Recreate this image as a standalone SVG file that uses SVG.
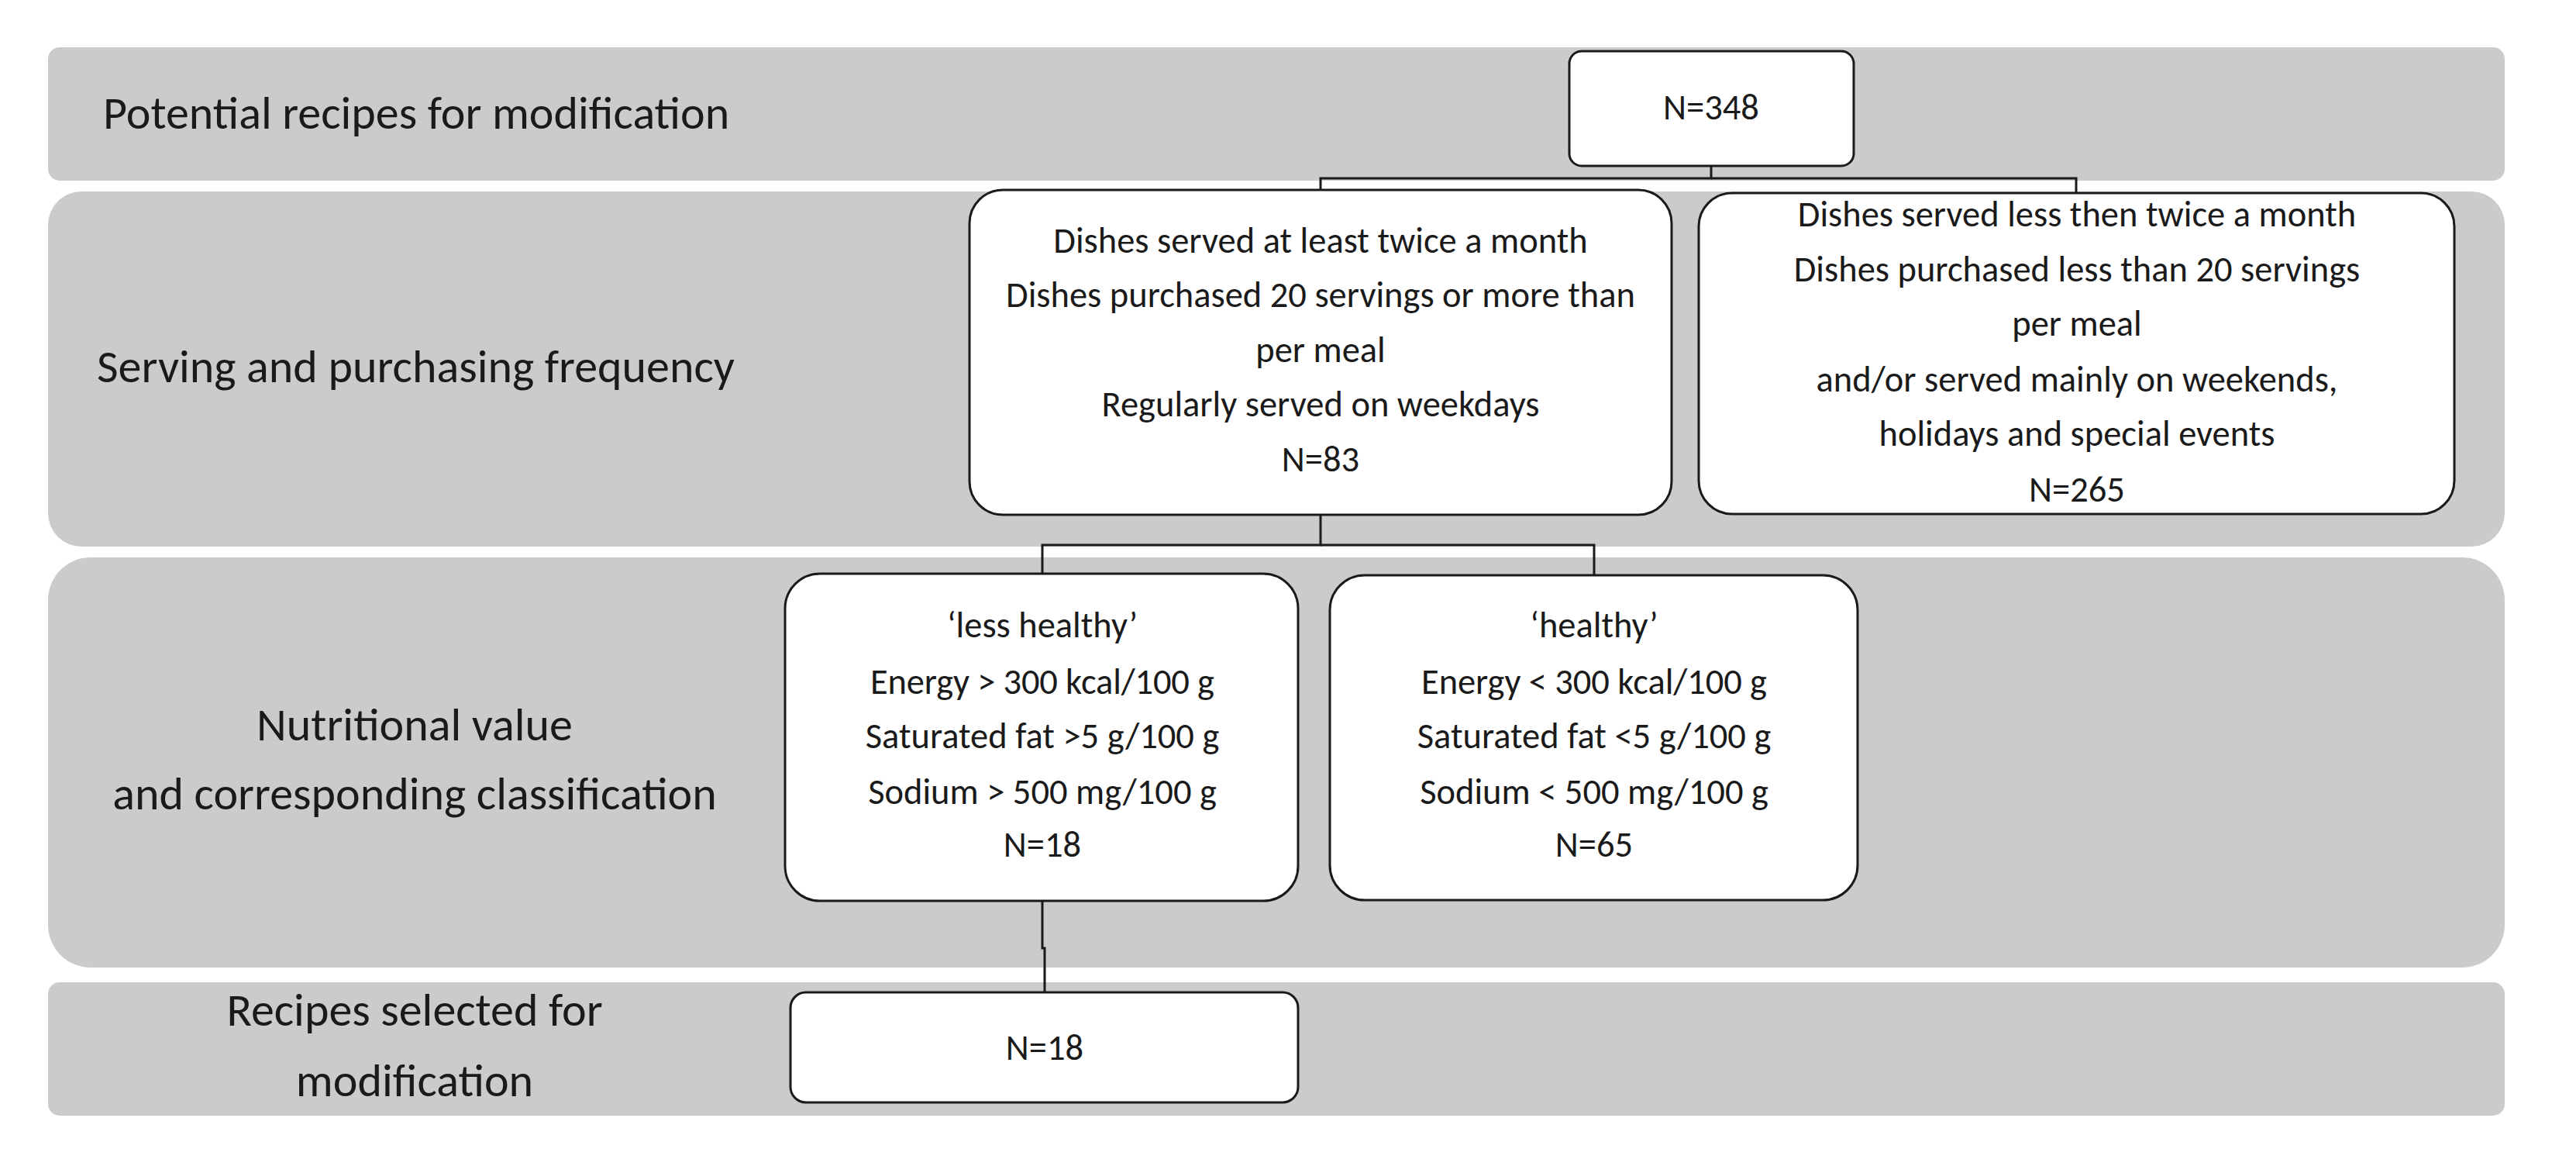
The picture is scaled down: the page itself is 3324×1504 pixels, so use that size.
<svg xmlns="http://www.w3.org/2000/svg" width="3324" height="1504" viewBox="0 0 3324 1504">
<style>
.band{fill:#cbcbcb;stroke:none}
.node{fill:#ffffff;stroke:#1a1a1a;stroke-width:3}
.conn{fill:none;stroke:#1a1a1a;stroke-width:3}
text{font-family:Carlito,Lato,"Open Sans",sans-serif;fill:#1a1a1a}
.lbl{font-size:60px}
.t{font-size:46.5px;text-anchor:middle}
.c{text-anchor:middle}
</style>
<rect width="3324" height="1504" fill="#ffffff"/>
<g id="bands">
<rect class="band" x="62" y="61" width="3170" height="172" rx="15"/>
<rect class="band" x="62" y="247" width="3170" height="458" rx="43"/>
<rect class="band" x="62" y="719" width="3170" height="529" rx="55"/>
<rect class="band" x="62" y="1267" width="3170" height="172" rx="15"/>
</g>
<g id="labels">
<text class="lbl" x="133" y="166">Potential recipes for modification</text>
<text class="lbl" x="125" y="493">Serving and purchasing frequency</text>
<text class="lbl c" x="535" y="955">Nutritional value</text>
<text class="lbl c" x="535" y="1044">and corresponding classification</text>
<text class="lbl c" x="535" y="1323">Recipes selected for</text>
<text class="lbl c" x="535" y="1414">modification</text>
</g>
<g id="connectors">
<path class="conn" d="M2208,214 V230 H1704 V246"/>
<path class="conn" d="M2208,230 H2679 V250"/>
<path class="conn" d="M1704,664 V703 H1345 V740"/>
<path class="conn" d="M1704,703 H2057 V742"/>
<path class="conn" d="M1345,1162 V1223 H1348 V1280"/>
</g>
<g id="n348">
<rect class="node" x="2025" y="66" width="367" height="148" rx="16"/>
<text class="t" x="2208" y="154">N=348</text>
</g>
<g id="frequent">
<rect class="node" x="1251" y="245" width="906" height="419" rx="43"/>
<text class="t" x="1704" y="326">Dishes served at least twice a month</text>
<text class="t" x="1704" y="396">Dishes purchased 20 servings or more than</text>
<text class="t" x="1704" y="467">per meal</text>
<text class="t" x="1704" y="537">Regularly served on weekdays</text>
<text class="t" x="1704" y="608">N=83</text>
</g>
<g id="infrequent">
<rect class="node" x="2192" y="249" width="975" height="414" rx="43"/>
<text class="t" x="2680" y="292">Dishes served less then twice a month</text>
<text class="t" x="2680" y="363">Dishes purchased less than 20 servings</text>
<text class="t" x="2680" y="433">per meal</text>
<text class="t" x="2680" y="505">and/or served mainly on weekends,</text>
<text class="t" x="2680" y="575">holidays and special events</text>
<text class="t" x="2680" y="647">N=265</text>
</g>
<g id="lesshealthy">
<rect class="node" x="1013" y="740" width="662" height="422" rx="45"/>
<text class="t" x="1345" y="822">‘less healthy’</text>
<text class="t" x="1345" y="895" textLength="444">Energy &gt; 300 kcal/100 g</text>
<text class="t" x="1345" y="965">Saturated fat &gt;5 g/100 g</text>
<text class="t" x="1345" y="1037">Sodium  &gt; 500 mg/100 g</text>
<text class="t" x="1345" y="1105">N=18</text>
</g>
<g id="healthy">
<rect class="node" x="1716" y="742" width="681" height="419" rx="45"/>
<text class="t" x="2057" y="822">‘healthy’</text>
<text class="t" x="2057" y="895" textLength="446">Energy &lt; 300 kcal/100 g</text>
<text class="t" x="2057" y="965">Saturated fat &lt;5 g/100 g</text>
<text class="t" x="2057" y="1037">Sodium  &lt; 500 mg/100 g</text>
<text class="t" x="2057" y="1105">N=65</text>
</g>
<g id="selected">
<rect class="node" x="1020" y="1280" width="655" height="142" rx="20"/>
<text class="t" x="1348" y="1367">N=18</text>
</g>
</svg>
